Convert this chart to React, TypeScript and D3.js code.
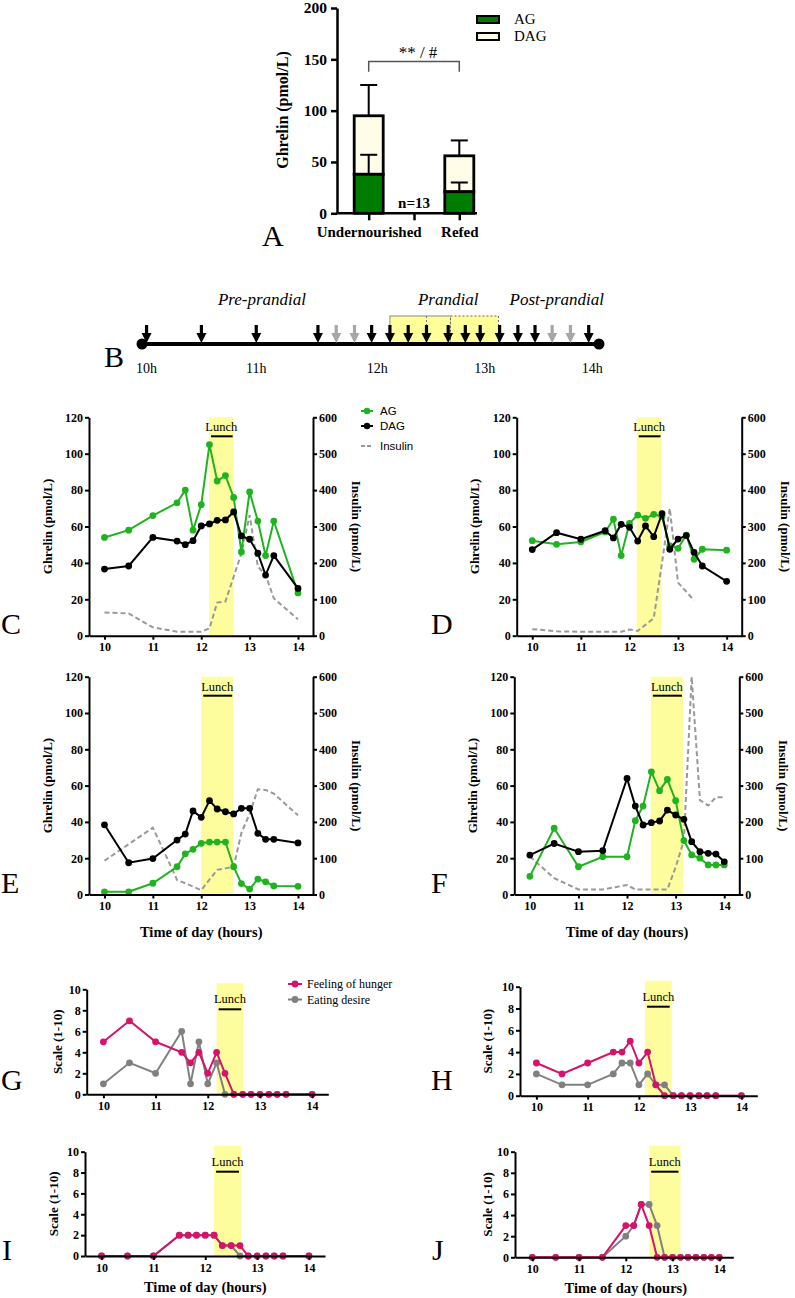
import React, { useEffect, useRef } from "react";
import * as d3 from "d3";

const SERIF = "'Liberation Serif', 'Times New Roman', serif";
const SANS = "'Liberation Sans', Arial, sans-serif";

// ---------- panel A : mean ghrelin (stacked AG + DAG)
const groups = ["Undernourished", "", "Refed"];
const agMean = [38, 21];
const agSd = [19, 9];
const dagMean = [57, 35];
const totalSd = [30, 15];
const aTicks = [0, 50, 100, 150, 200];

// ---------- panel B : sampling timeline
const sampleTimes = [10.04, 10.52, 11.0, 11.54, 11.7, 11.86, 12.01, 12.17, 12.33, 12.49, 12.68, 12.83, 12.96, 13.13, 13.29, 13.44, 13.59, 13.75, 13.91];
const sampleGray = [false, false, false, false, true, true, false, false, false, false, false, false, false, false, false, false, true, true, false];
const hourLabels = ["10h", "11h", "12h", "13h", "14h"];
const hourLabelPos = [10.04, 11.0, 12.06, 13.0, 13.94];
const phaseLabels = ["Pre-prandial", "Prandial", "Post-prandial"];
const phasePos = [11.05, 12.68, 13.63];
const mealBoxes = [[12.17, 12.7], [12.7, 13.12]];
const mealDivider = 12.49;

// ---------- sampling times (hours)
const t17 = [10, 10.5, 11, 11.5, 11.67, 11.83, 12, 12.17, 12.33, 12.5, 12.67, 12.83, 13, 13.17, 13.33, 13.5, 14];
const tLate = [10, 10.5, 11, 11.5, 12, 12.17, 12.33, 12.5, 12.67, 12.83, 13, 13.17, 13.33, 13.5, 13.67, 13.83, 14];

// ---------- panel C
const agC = [54, 58, 66, 73, 80, 58, 72, 105, 85, 88, 76, 46, 79, 63, 44, 63, 23.5];
const dagC = [36.6, 38.3, 54, 52, 50, 52.2, 60.3, 61.4, 63.4, 63.6, 68, 54.8, 53, 45.3, 33.3, 44, 26];
const insTimesC = [10, 10.5, 11, 11.5, 12, 12.17, 12.33, 12.5, 12.67, 12.83, 13, 13.17, 13.33, 13.5, 14];
const insC = [64, 61, 23, 11, 11, 20, 91, 94, 162, 226, 331, 190, 167, 103, 45];

// ---------- panel D
const agD = [52.2, 50.2, 51.5, 57, 64, 44, 61.7, 66.3, 64.5, 66.7, 65.4, 49.3, 48, 55.3, 42, 47.5, 47];
const dagD = [47.3, 56.6, 53, 57.7, 53.7, 61.2, 59.6, 52, 60.3, 54.4, 67, 47.5, 53.1, 55, 45.8, 38.3, 29.9];
const insTimesD = [10, 10.5, 11, 11.5, 11.83, 12, 12.17, 12.5, 12.67, 12.83, 13, 13.33];
const insD = [18, 12, 11, 11, 11, 17, 13, 48, 200, 350, 146, 97];

// ---------- panel E
const agE = [1.5, 1.5, 6.2, 15.3, 22.4, 24.9, 28.2, 28.9, 28.9, 28.9, 15.3, 6, 3, 8.5, 7, 4.7, 4.5];
const dagE = [38.4, 17.5, 19.8, 30, 33.3, 46, 42.5, 51.7, 47.1, 45.6, 44.4, 47.5, 47.5, 33.7, 30.4, 30.4, 28.4];
const insTimesE = [10, 11, 11.33, 11.5, 11.67, 12, 12.33, 12.5, 12.67, 12.83, 13, 13.17, 13.33, 13.5, 14];
const insE = [93, 184, 90, 40, 31, 12, 68, 72, 76, 170, 222, 290, 288, 278, 218];

// ---------- panel F
const agF = [10, 36.5, 15.3, 20.8, 20.8, 40.7, 48.7, 67.6, 57.2, 63.4, 51.7, 29.7, 21.8, 20, 16.3, 16.3, 16.3];
const dagF = [21.7, 28.1, 23.6, 24.1, 63.9, 48.7, 38.3, 39.6, 40.5, 46.5, 43.8, 41.4, 29.1, 23.6, 22.7, 22.3, 18];
const insTimesF = [10, 10.5, 11, 11.5, 12, 12.17, 12.5, 12.83, 13, 13.17, 13.33, 13.5, 13.67, 13.83, 14];
const insF = [105, 45, 14, 14, 26, 14, 14, 14, 75, 150, 600, 260, 245, 268, 268];

// ---------- panels G-J (hunger / eating desire)
const hungerG = [5, 7, 5, 4, 3, 4, 2, 4, 2, 0, 0, 0, 0, 0, 0, 0, 0];
const desireG = [1, 3, 2, 6, 1, 5, 1, 3, 0, 0, 0, 0, 0, 0, 0, 0, 0];
const hungerH = [3, 2, 3, 4, 4, 5, 3, 4, 1, 0, 0, 0, 0, 0, 0, 0, 0];
const desireH = [2, 1, 1, 2, 3, 3, 1, 2, 1, 1, 0, 0, 0, 0, 0, 0, 0];
const hungerI = [0, 0, 0, 2, 2, 2, 2, 2, 1, 1, 1, 0, 0, 0, 0, 0, 0];
const desireI = [0, 0, 0, 2, 2, 2, 2, 2, 1, 1, 0, 0, 0, 0, 0, 0, 0];
const hungerJ = [0, 0, 0, 0, 3, 3, 5, 3, 0, 0, 0, 0, 0, 0, 0, 0, 0];
const desireJ = [0, 0, 0, 0, 2, 3, 5, 5, 3, 0, 0, 0, 0, 0, 0, 0, 0];

const hourTicks = [10, 11, 12, 13, 14];
const ghrelinTicks = [0, 20, 40, 60, 80, 100, 120];
const insulinTicks = [0, 100, 200, 300, 400, 500, 600];
const scaleTicks = [0, 2, 4, 6, 8, 10];

const GREEN = "#1fb31f";
const PINK = "#d6126a";
const GREY = "#808080";
const YELLOW = "#fdfd9e";

type Sel = d3.Selection<SVGGElement, unknown, null, undefined>;

function styleAxis(g: Sel, size = 12) {
  g.attr("font-family", SERIF).attr("font-size", size).attr("font-weight", "bold");
  g.select(".domain").attr("stroke", "#000").attr("stroke-width", 2);
  g.selectAll(".tick line").attr("stroke", "#000").attr("stroke-width", 2);
  g.selectAll(".tick text").attr("fill", "#000");
}

function series(g: Sel, x: any, y: any, ts: number[], vs: number[], color: string, r = 3.4) {
  const pts = ts.map((t, i) => [t, vs[i]] as [number, number]);
  g.append("path")
    .datum(pts)
    .attr("fill", "none")
    .attr("stroke", color)
    .attr("stroke-width", 2)
    .attr("d", d3.line<[number, number]>().x((d) => x(d[0])).y((d) => y(d[1])));
  g.selectAll(null)
    .data(pts)
    .enter()
    .append("circle")
    .attr("cx", (d) => x(d[0]))
    .attr("cy", (d) => y(d[1]))
    .attr("r", r)
    .attr("fill", color);
}

function dashed(g: Sel, x: any, y: any, ts: number[], vs: number[]) {
  g.append("path")
    .datum(ts.map((t, i) => [t, vs[i]] as [number, number]))
    .attr("fill", "none")
    .attr("stroke", "#999")
    .attr("stroke-width", 2)
    .attr("stroke-dasharray", "5,3")
    .attr("d", d3.line<[number, number]>().x((d) => x(d[0])).y((d) => y(d[1])));
}

function label(svg: Sel, text: string, x: number, y: number) {
  svg.append("text").attr("x", x).attr("y", y).style("font-family", SERIF).style("font-size", "30px").text(text);
}

interface DualCfg {
  x0: number; x1: number; yTop: number; yBot: number; dom?: [number, number];
  lunch: [number, number];
  ag: number[]; dag: number[]; times: number[];
  insT: number[]; ins: number[];
  leftLabelX: number; rightLabelX: number; timeTitle?: boolean;
}

function drawDual(svg: Sel, c: DualCfg) {
  const x = d3.scaleLinear().domain(c.dom || [9.68, 14.31]).range([c.x0, c.x1]);
  const y = d3.scaleLinear().domain([0, 120]).range([c.yBot, c.yTop]);
  const yr = d3.scaleLinear().domain([0, 600]).range([c.yBot, c.yTop]);
  const g = svg.append("g");

  g.append("rect")
    .attr("x", x(c.lunch[0]))
    .attr("y", c.yTop)
    .attr("width", x(c.lunch[1]) - x(c.lunch[0]))
    .attr("height", c.yBot - c.yTop)
    .attr("fill", YELLOW);
  g.append("line")
    .attr("x1", x(c.lunch[0]) + 2).attr("x2", x(c.lunch[1]) - 1)
    .attr("y1", c.yTop + 19).attr("y2", c.yTop + 19)
    .attr("stroke", "#000").attr("stroke-width", 2);
  g.append("text")
    .attr("x", (x(c.lunch[0]) + x(c.lunch[1])) / 2)
    .attr("y", c.yTop + 14)
    .attr("text-anchor", "middle")
    .style("font-family", SERIF).style("font-size", "12.5px")
    .text("Lunch");

  dashed(g, x, yr, c.insT, c.ins);
  series(g, x, y, c.times, c.ag, GREEN);
  series(g, x, y, c.times, c.dag, "#000");

  const ax = g.append("g").attr("transform", `translate(0,${c.yBot})`)
    .call(d3.axisBottom(x).tickValues(hourTicks).tickSize(4).tickSizeOuter(0).tickPadding(3).tickFormat(d3.format("d")) as any);
  styleAxis(ax);
  const al = g.append("g").attr("transform", `translate(${c.x0},0)`)
    .call(d3.axisLeft(y).tickValues(ghrelinTicks).tickSize(4).tickSizeOuter(0).tickPadding(2) as any);
  styleAxis(al);
  const ar = g.append("g").attr("transform", `translate(${c.x1},0)`)
    .call(d3.axisRight(yr).tickValues(insulinTicks).tickSize(4).tickSizeOuter(0).tickPadding(2) as any);
  styleAxis(ar);

  const mid = (c.yTop + c.yBot) / 2;
  g.append("text")
    .attr("transform", `translate(${c.leftLabelX},${mid}) rotate(-90)`)
    .attr("text-anchor", "middle")
    .style("font-family", SERIF).style("font-weight", "bold").style("font-size", "13px")
    .text("Ghrelin (pmol/L)");
  g.append("text")
    .attr("transform", `translate(${c.rightLabelX},${mid}) rotate(90)`)
    .attr("text-anchor", "middle")
    .style("font-family", SERIF).style("font-weight", "bold").style("font-size", "13px")
    .text("Insulin (pmol/L)");
  if (c.timeTitle) {
    g.append("text")
      .attr("x", (x(10) + x(14)) / 2)
      .attr("y", c.yBot + 42)
      .attr("text-anchor", "middle")
      .style("font-family", SERIF).style("font-weight", "bold").style("font-size", "14.5px")
      .text("Time of day (hours)");
  }
}

interface ScaleCfg {
  x0: number; x1: number; yTop: number; yBot: number; dom?: [number, number];
  lunch: [number, number]; times: number[]; hunger: number[]; desire: number[];
  labelX: number; timeTitle?: boolean;
}

function drawScale(svg: Sel, c: ScaleCfg) {
  const x = d3.scaleLinear().domain(c.dom || [9.68, 14.31]).range([c.x0, c.x1]);
  const y = d3.scaleLinear().domain([0, 10]).range([c.yBot, c.yTop]);
  const g = svg.append("g");

  g.append("rect")
    .attr("x", x(c.lunch[0]))
    .attr("y", c.yTop - 6)
    .attr("width", x(c.lunch[1]) - x(c.lunch[0]))
    .attr("height", c.yBot - c.yTop + 6)
    .attr("fill", YELLOW);
  g.append("line")
    .attr("x1", x(c.lunch[0]) + 2).attr("x2", x(c.lunch[1]) - 2)
    .attr("y1", c.yTop + 20).attr("y2", c.yTop + 20)
    .attr("stroke", "#000").attr("stroke-width", 2);
  g.append("text")
    .attr("x", (x(c.lunch[0]) + x(c.lunch[1])) / 2)
    .attr("y", c.yTop + 14)
    .attr("text-anchor", "middle")
    .style("font-family", SERIF).style("font-size", "12.5px")
    .text("Lunch");

  series(g, x, y, c.times, c.desire, GREY);
  series(g, x, y, c.times, c.hunger, PINK);

  const ax = g.append("g").attr("transform", `translate(0,${c.yBot})`)
    .call(d3.axisBottom(x).tickValues(hourTicks).tickSize(4).tickSizeOuter(0).tickPadding(3).tickFormat(d3.format("d")) as any);
  styleAxis(ax);
  const al = g.append("g").attr("transform", `translate(${c.x0},0)`)
    .call(d3.axisLeft(y).tickValues(scaleTicks).tickSize(4).tickSizeOuter(0).tickPadding(2) as any);
  styleAxis(al);

  g.append("text")
    .attr("transform", `translate(${c.labelX},${(c.yTop + c.yBot) / 2}) rotate(-90)`)
    .attr("text-anchor", "middle")
    .style("font-family", SERIF).style("font-weight", "bold").style("font-size", "13px")
    .text("Scale (1-10)");
  if (c.timeTitle) {
    g.append("text")
      .attr("x", (x(10) + x(14)) / 2)
      .attr("y", c.yBot + 36)
      .attr("text-anchor", "middle")
      .style("font-family", SERIF).style("font-weight", "bold").style("font-size", "14.5px")
      .text("Time of day (hours)");
  }
}

function drawA(svg: Sel) {
  const y = d3.scaleLinear().domain([0, 200]).range([213.3, 8]);
  const x = d3.scalePoint<string>().domain(groups).range([368.7, 459.3]);
  const g = svg.append("g");
  const bw = 29;
  const bars = [groups[0], groups[2]];

  bars.forEach((grp, i) => {
    const cx = x(grp)!;
    const ag = agMean[i];
    const tot = agMean[i] + dagMean[i];
    g.append("line").attr("x1", cx).attr("x2", cx).attr("y1", y(tot)).attr("y2", y(tot + totalSd[i])).attr("stroke", "#000").attr("stroke-width", 2);
    g.append("line").attr("x1", cx - 8.5).attr("x2", cx + 8.5).attr("y1", y(tot + totalSd[i])).attr("y2", y(tot + totalSd[i])).attr("stroke", "#000").attr("stroke-width", 2);
    g.append("rect").attr("x", cx - bw / 2).attr("y", y(tot)).attr("width", bw).attr("height", y(ag) - y(tot))
      .attr("fill", "#fffde8").attr("stroke", "#000").attr("stroke-width", 2.8);
    g.append("rect").attr("x", cx - bw / 2).attr("y", y(ag)).attr("width", bw).attr("height", y(0) - y(ag))
      .attr("fill", "#007d00").attr("stroke", "#000").attr("stroke-width", 2.8);
    g.append("line").attr("x1", cx).attr("x2", cx).attr("y1", y(ag)).attr("y2", y(ag + agSd[i])).attr("stroke", "#000").attr("stroke-width", 2);
    g.append("line").attr("x1", cx - 8.5).attr("x2", cx + 8.5).attr("y1", y(ag + agSd[i])).attr("y2", y(ag + agSd[i])).attr("stroke", "#000").attr("stroke-width", 2);
  });

  const ax = g.append("g").attr("transform", `translate(0,${y(0)})`)
    .call(d3.axisBottom(x).tickSize(7).tickSizeOuter(0).tickPadding(6) as any);
  styleAxis(ax, 15);
  ax.select(".domain").attr("d", "M337,0H477").attr("stroke-width", 2.5);
  ax.selectAll(".tick line").attr("stroke-width", 2.5);
  const al = g.append("g").attr("transform", `translate(337,0)`)
    .call(d3.axisLeft(y).tickValues(aTicks).tickSize(6).tickSizeOuter(0).tickPadding(4) as any);
  styleAxis(al, 15.5);
  al.select(".domain").attr("stroke-width", 2.5);
  al.selectAll(".tick line").attr("stroke-width", 2.5);

  g.append("text")
    .attr("transform", `translate(288,110) rotate(-90)`)
    .attr("text-anchor", "middle")
    .style("font-family", SERIF).style("font-weight", "bold").style("font-size", "16px")
    .text("Ghrelin (pmol/L)");

  g.append("text").attr("x", x(groups[1])!).attr("y", 208).attr("text-anchor", "middle")
    .style("font-family", SERIF).style("font-weight", "bold").style("font-size", "15px").text("n=13");

  // significance bracket
  g.append("path")
    .attr("d", `M${x(groups[0])},${y(138)}V${y(148)}H${x(groups[2])}V${y(138)}`)
    .attr("fill", "none").attr("stroke", "#555").attr("stroke-width", 1.5);
  g.append("text").attr("x", 418).attr("y", 58).attr("text-anchor", "middle")
    .style("font-family", SERIF).style("font-size", "17px").text("** / #");

  // legend
  const lg = g.append("g").attr("transform", "translate(477,16)");
  [["AG", "#007d00"], ["DAG", "#fffde8"]].forEach(([t, col], i) => {
    lg.append("rect").attr("x", 0).attr("y", i * 17).attr("width", 22).attr("height", 7)
      .attr("fill", col).attr("stroke", "#000").attr("stroke-width", 2);
    lg.append("text").attr("x", 37).attr("y", i * 17 + 8).style("font-family", SERIF).style("font-size", "15px").text(t);
  });
}

function drawB(svg: Sel) {
  const x = d3.scaleLinear().domain([10, 14]).range([142, 599]);
  const g = svg.append("g");
  const lineY = 344;

  mealBoxes.forEach(([a, b], i) => {
    g.append("rect").attr("x", x(a)).attr("y", 316).attr("width", x(b) - x(a)).attr("height", lineY - 316)
      .attr("fill", "#ffff99")
      .attr("stroke", i === 0 ? "#888" : "#666").attr("stroke-width", 1)
      .attr("stroke-dasharray", i === 0 ? null : "2,2");
  });
  g.append("line").attr("x1", x(mealDivider)).attr("x2", x(mealDivider)).attr("y1", 316).attr("y2", lineY)
    .attr("stroke", "#777").attr("stroke-width", 1).attr("stroke-dasharray", "2,2");

  g.append("line").attr("x1", x(10)).attr("x2", x(14)).attr("y1", lineY).attr("y2", lineY)
    .attr("stroke", "#000").attr("stroke-width", 4);
  [10, 14].forEach((h) => g.append("circle").attr("cx", x(h)).attr("cy", lineY).attr("r", 5.5).attr("fill", "#000"));

  sampleTimes.forEach((t, i) => {
    const cx = x(t);
    const col = sampleGray[i] ? "#a6a6a6" : "#000";
    g.append("rect").attr("x", cx - 1.6).attr("y", 325).attr("width", 3.2).attr("height", 9).attr("fill", col);
    g.append("path").attr("d", `M${cx - 5},333L${cx + 5},333L${cx},343Z`).attr("fill", col);
  });

  hourLabels.forEach((t, i) => {
    g.append("text").attr("x", x(hourLabelPos[i])).attr("y", 373).attr("text-anchor", "middle")
      .style("font-family", SERIF).style("font-size", "14px").text(t);
  });
  phaseLabels.forEach((t, i) => {
    g.append("text").attr("x", x(phasePos[i])).attr("y", 305).attr("text-anchor", "middle")
      .style("font-family", SERIF).style("font-style", "italic").style("font-size", "17px").text(t);
  });
}

export default function App() {
  const ref = useRef<SVGSVGElement>(null);

  useEffect(() => {
    if (!ref.current) return;
    const svg = d3.select(ref.current) as any as Sel;
    svg.selectAll("*").remove();
    svg.append("rect").attr("width", 795).attr("height", 1298).attr("fill", "#fff");

    drawA(svg);
    label(svg, "A", 262, 246);
    drawB(svg);
    label(svg, "B", 104, 367);

    drawDual(svg, { x0: 89, x1: 313, yTop: 417.3, yBot: 635.7, lunch: [12.16, 12.67], ag: agC, dag: dagC, times: t17, insT: insTimesC, ins: insC, leftLabelX: 52, rightLabelX: 352 });
    drawDual(svg, { x0: 516.7, x1: 741.7, yTop: 417.3, yBot: 635.7, lunch: [12.15, 12.66], ag: agD, dag: dagD, times: t17, insT: insTimesD, ins: insD, leftLabelX: 479, rightLabelX: 781 });
    drawDual(svg, { x0: 89, x1: 313, yTop: 676.7, yBot: 894.5, lunch: [12.0, 12.66], ag: agE, dag: dagE, times: t17, insT: insTimesE, ins: insE, leftLabelX: 52, rightLabelX: 352, timeTitle: true });
    drawDual(svg, { x0: 514.3, x1: 739.3, yTop: 676.7, yBot: 894.5, lunch: [12.49, 13.15], ag: agF, dag: dagF, times: tLate, insT: insTimesF, ins: insF, leftLabelX: 477, rightLabelX: 779, timeTitle: true });
    label(svg, "C", 1, 634);
    label(svg, "D", 431, 634);
    label(svg, "E", 1, 893);
    label(svg, "F", 431, 893);

    // legend for C-F
    const lg = svg.append("g").attr("transform", "translate(361,411)");
    [["AG", GREEN, false], ["DAG", "#000", false], ["Insulin", "#999", true]].forEach(([t, col, dash], i) => {
      const yy = [0, 15, 35][i];
      lg.append("line").attr("x1", 0).attr("x2", 12).attr("y1", yy).attr("y2", yy)
        .attr("stroke", col as string).attr("stroke-width", 2).attr("stroke-dasharray", dash ? "4,2" : null);
      if (!dash) lg.append("circle").attr("cx", 6).attr("cy", yy).attr("r", 3.2).attr("fill", col as string);
      lg.append("text").attr("x", 19).attr("y", yy + 4).style("font-family", SANS).style("font-size", "11.5px").text(t as string);
    });

    drawScale(svg, { x0: 86.7, x1: 328.3, yTop: 989.3, yBot: 1094.3, lunch: [12.17, 12.68], times: t17, hunger: hungerG, desire: desireG, labelX: 62 });
    drawScale(svg, { x0: 520, x1: 757.3, yTop: 986.7, yBot: 1095.7, lunch: [12.12, 12.64], times: t17, hunger: hungerH, desire: desireH, labelX: 492 });
    drawScale(svg, { x0: 85, x1: 325, yTop: 1151.7, yBot: 1256, lunch: [12.17, 12.69], times: t17, hunger: hungerI, desire: desireI, labelX: 58, timeTitle: true });
    drawScale(svg, { x0: 515, x1: 733.3, yTop: 1151.7, yBot: 1257.3, dom: [9.63, 14.3], lunch: [12.5, 13.17], times: tLate, hunger: hungerJ, desire: desireJ, labelX: 492, timeTitle: true });
    label(svg, "G", 1, 1090);
    label(svg, "H", 431, 1090);
    label(svg, "I", 2, 1260);
    label(svg, "J", 432, 1260);

    // legend for G-J
    const lg2 = svg.append("g").attr("transform", "translate(288,984)");
    [["Feeling of hunger", PINK], ["Eating desire", GREY]].forEach(([t, col], i) => {
      const yy = i * 15.5;
      lg2.append("line").attr("x1", 0).attr("x2", 14).attr("y1", yy).attr("y2", yy).attr("stroke", col).attr("stroke-width", 2);
      lg2.append("circle").attr("cx", 7).attr("cy", yy).attr("r", 3.4).attr("fill", col);
      lg2.append("text").attr("x", 19).attr("y", yy + 4).style("font-family", SERIF).style("font-size", "12px").text(t);
    });
  }, []);

  return (
    <svg
      ref={ref}
      width={795}
      height={1298}
      style={{ position: "absolute", left: 0, top: 0, display: "block" }}
    />
  );
}
